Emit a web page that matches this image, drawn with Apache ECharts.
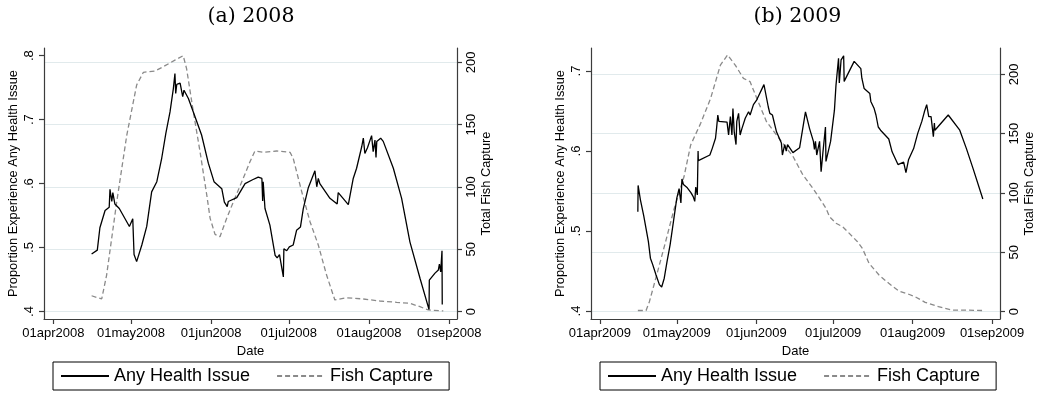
<!DOCTYPE html>
<html>
<head>
<meta charset="utf-8">
<script src="https://cdn.jsdelivr.net/npm/echarts@6/dist/echarts.min.js"></script>
<style>
html,body{margin:0;padding:0;background:#fff;}
#chart{width:1037px;height:394px;}
</style>
</head>
<body>
<div id="chart"></div>
<script>
// ---------- DATA (x = days since 01apr of the year) ----------
var panelTitles = ['(a) 2008', '(b) 2009'];
var seriesNames = ['Any Health Issue', 'Fish Capture'];
var xTickDays = [0, 30, 61, 91, 122, 153];
var xTickLabels08 = ['01apr2008', '01may2008', '01jun2008', '01jul2008', '01aug2008', '01sep2008'];
var xTickLabels09 = ['01apr2009', '01may2009', '01jun2009', '01jul2009', '01aug2009', '01sep2009'];
var leftTicks08 = [0.4, 0.5, 0.6, 0.7, 0.8];
var leftLabels08 = ['.4', '.5', '.6', '.7', '.8'];
var leftTicks09 = [0.4, 0.5, 0.6, 0.7];
var leftLabels09 = ['.4', '.5', '.6', '.7'];
var rightTicks = [0, 50, 100, 150, 200];
var rightLabels = ['0', '50', '100', '150', '200'];

var healthDays08 = [14.8,17.0,18.0,20.0,21.6,21.9,22.6,23.0,23.8,25.5,29.4,30.7,31.2,32.2,34.2,36.1,38.0,40.0,41.9,43.5,45.1,46.4,47.0,47.3,47.7,49.0,50.0,50.5,52.2,54.1,57.3,59.9,62.1,65.1,66.1,67.2,67.6,70.9,74.1,77.0,79.2,80.6,80.9,81.1,81.8,83.7,85.7,86.5,87.4,88.9,89.1,90.2,91.2,92.7,94.0,95.5,96.6,98.5,101.1,101.8,102.4,103.0,106.9,109.7,110.1,114.0,115.9,117.2,119.2,119.8,120.4,121.4,123.0,123.6,124.3,124.7,125.0,125.7,126.5,127.5,131.4,134.6,137.8,141.7,145.2,145.3,147.5,148.8,149.2,149.7,150.2,150.3];
var health08 = [.490,.496,.531,.558,.563,.591,.572,.586,.568,.561,.533,.545,.489,.478,.504,.533,.587,.603,.640,.679,.712,.749,.772,.741,.755,.757,.736,.746,.733,.712,.676,.632,.603,.592,.571,.564,.572,.578,.600,.606,.610,.608,.573,.603,.561,.535,.488,.484,.489,.454,.498,.495,.501,.504,.527,.532,.561,.593,.620,.595,.608,.600,.577,.568,.586,.567,.608,.624,.658,.671,.647,.656,.675,.650,.668,.641,.666,.666,.671,.666,.624,.577,.509,.452,.403,.449,.460,.465,.474,.462,.495,.411];

var fishDays08 = [14.8,18.7,20.6,24.5,28.4,32.2,34.8,39.3,42.5,47.0,50.2,51.5,54.1,56.7,59.3,60.6,62.5,64.4,67.0,69.6,73.4,76.0,77.9,81.1,86.3,91.5,92.7,96.0,99.2,102.4,105.6,108.8,113.4,119.8,126.2,132.7,137.8,141.7,144.9,150.7];
var fish08 = [12.8,10.2,29.4,88,141.7,181.8,192,193,196.5,201.8,205.3,195,160.4,128.3,93.6,74.9,62,60.1,74.9,88.2,107,120.3,128.9,127.8,128.9,127.8,123,96.2,72.2,53.5,29.4,9.4,11.2,10.2,8.6,7.5,6.7,4,1.4,0.6];

var healthDays09 = [14.8,14.9,15.8,17.1,18.0,18.9,19.7,20.6,21.9,23.2,24.1,25.1,26.2,27.4,28.7,30.0,30.9,31.6,32.0,32.6,34.1,35.5,36.4,37.0,37.4,38.0,38.3,38.4,42.9,43.8,45.1,45.5,46.0,46.4,49.6,50.2,50.9,51.5,51.9,52.4,53.1,53.4,54.1,54.7,55.4,56.7,58.0,58.6,59.9,60.5,61.2,64.0,65.7,66.3,67.3,68.9,70.8,71.2,72.1,72.7,73.2,75.3,77.9,80.2,81.8,83.3,83.7,84.1,84.6,85.7,86.3,87.0,88.0,88.2,90.0,91.5,92.1,93.1,93.4,94.1,95.1,95.3,99.2,101.8,102.2,103.1,105.3,105.7,107.0,107.7,108.6,109.5,112.7,114.0,116.3,118.5,119.4,120.4,121.0,122.4,124.0,125.6,126.6,127.5,128.1,128.3,129.2,130.1,130.5,130.7,135.9,140.4,143.0,145.6,149.4];
var health09 = [.524,.557,.539,.519,.503,.487,.466,.458,.445,.433,.430,.441,.462,.483,.512,.541,.553,.535,.565,.558,.554,.548,.543,.537,.555,.545,.600,.588,.595,.603,.616,.628,.645,.637,.636,.620,.643,.620,.653,.624,.608,.637,.647,.620,.628,.641,.649,.645,.658,.656,.664,.683,.655,.647,.645,.624,.610,.595,.608,.600,.608,.598,.604,.649,.628,.612,.602,.612,.595,.612,.574,.598,.630,.587,.612,.651,.682,.716,.685,.714,.719,.687,.712,.703,.691,.678,.672,.662,.653,.645,.630,.626,.615,.599,.583,.586,.573,.589,.587,.603,.622,.637,.649,.658,.658,.643,.643,.618,.635,.626,.645,.626,.603,.578,.540];

var fishDays09 = [14.8,18.0,19.3,22.5,25.8,29.0,32.8,35.4,39.3,43.2,47.0,49.8,52.8,56.0,58.6,61.2,65.0,68.9,72.8,75.3,79.2,83.1,85.7,88.2,89.6,92.1,94.7,97.3,100.5,102.4,105.0,108.9,112.7,116.6,120.5,123.0,126.9,132.1,137.2,142.3,149.4];
var fish09 = [1,1,8.4,33.7,60.4,87.1,113.7,140.4,158.7,179.8,207.8,216.3,207.8,196.6,193.8,179.8,160.1,148.9,137.7,131,115.2,104,95.5,87.1,80,74.5,71.6,66,59,53.4,40.8,30.9,23.9,17.4,14.7,12.6,7.9,4.2,1.4,1.4,1];

// ---------- helpers ----------
function zip(xs, ys) { var out = []; for (var i = 0; i < xs.length; i++) out.push([xs[i], ys[i]]); return out; }
function labeler(vals, labs) {
  return function (v) {
    for (var i = 0; i < vals.length; i++) if (Math.abs(v - vals[i]) < 1e-6) return labs[i];
    return '';
  };
}
var SANS = 'Liberation Sans, Arial, sans-serif';
var AXIS_COLOR = '#3c3c3c';
var GRID_COLOR = '#e1eaec';

function xAxisFor(gridIndex, labels, min, max) {
  return {
    type: 'value', gridIndex: gridIndex, min: min, max: max,
    name: 'Date', nameLocation: 'middle', nameGap: 22,
    nameTextStyle: { fontFamily: SANS, fontSize: 13, color: '#000' },
    axisLine: { show: true, onZero: false, lineStyle: { color: AXIS_COLOR, width: 1.2 } },
    axisTick: { show: true, customValues: xTickDays, length: 5, lineStyle: { color: AXIS_COLOR, width: 1.2 } },
    axisLabel: { customValues: xTickDays, formatter: labeler(xTickDays, labels), margin: 8,
                 fontFamily: SANS, fontSize: 13, color: '#000' },
    splitLine: { show: false }
  };
}
function yLeft(gridIndex, ticks, labels, min, max) {
  return {
    type: 'value', gridIndex: gridIndex, position: 'left', min: min, max: max,
    name: 'Proportion Experience Any Health Issue', nameLocation: 'middle', nameGap: 24,
    nameTextStyle: { fontFamily: SANS, fontSize: 12.8, color: '#000' },
    axisLine: { show: true, onZero: false, lineStyle: { color: AXIS_COLOR, width: 1.2 } },
    axisTick: { show: true, customValues: ticks, length: 5, lineStyle: { color: AXIS_COLOR, width: 1.2 } },
    axisLabel: { customValues: ticks, formatter: labeler(ticks, labels), rotate: 90, margin: 8,
                 fontFamily: SANS, fontSize: 13, color: '#000' },
    splitLine: { show: false }
  };
}
function yRight(gridIndex, min, max) {
  return {
    type: 'value', gridIndex: gridIndex, position: 'right', min: min, max: max,
    name: 'Total Fish Capture', nameLocation: 'middle', nameGap: 23,
    nameTextStyle: { fontFamily: SANS, fontSize: 12.8, color: '#000' },
    axisLine: { show: true, onZero: false, lineStyle: { color: AXIS_COLOR, width: 1.2 } },
    axisTick: { show: true, customValues: rightTicks, length: 5, lineStyle: { color: AXIS_COLOR, width: 1.2 } },
    axisLabel: { customValues: rightTicks, formatter: labeler(rightTicks, rightLabels), rotate: 90, margin: 8,
                 fontFamily: SANS, fontSize: 13, color: '#000' },
    splitLine: { show: true, lineStyle: { color: GRID_COLOR, width: 1 } }
  };
}
function legendFor(left) {
  return {
    data: seriesNames, left: left, top: 362, orient: 'horizontal',
    itemWidth: 48, itemHeight: 14, itemGap: 26,
    padding: [5, 16, 5, 7],
    borderColor: '#000', borderWidth: 1,
    itemStyle: { opacity: 0 },
    textStyle: { fontFamily: SANS, fontSize: 18, color: '#000' },
    selectedMode: false
  };
}
function healthSeries(xi, yi, xs, ys) {
  return { name: seriesNames[0], type: 'line', xAxisIndex: xi, yAxisIndex: yi, data: zip(xs, ys),
           symbol: 'none', z: 3, itemStyle: { color: '#000' },
           lineStyle: { color: '#000', width: 1.3 } };
}
function fishSeries(xi, yi, xs, ys) {
  return { name: seriesNames[1], type: 'line', xAxisIndex: xi, yAxisIndex: yi, data: zip(xs, ys),
           symbol: 'none', z: 2, itemStyle: { color: '#8a8a8a' },
           lineStyle: { color: '#8a8a8a', width: 1.3, type: [5, 3] } };
}

var chart = echarts.init(document.getElementById('chart'), null, { renderer: 'canvas' });
chart.setOption({
  backgroundColor: '#fff',
  animation: false,
  title: [
    { text: panelTitles[0], left: 251, top: 6, textAlign: 'center', padding: 0,
      textStyle: { fontFamily: 'DejaVu Serif', fontSize: 20.5, fontWeight: 'normal', color: '#000' } },
    { text: panelTitles[1], left: 797.5, top: 6, textAlign: 'center', padding: 0,
      textStyle: { fontFamily: 'DejaVu Serif', fontSize: 20.5, fontWeight: 'normal', color: '#000' } }
  ],
  legend: [legendFor(53), legendFor(600)],
  grid: [
    { left: 44, right: 580, top: 48, bottom: 75, containLabel: false },
    { left: 591, right: 33, top: 48, bottom: 75, containLabel: false }
  ],
  xAxis: [
    xAxisFor(0, xTickLabels08, -3.6, 156.0),
    xAxisFor(1, xTickLabels09, -3.48, 156.1)
  ],
  yAxis: [
    yLeft(0, leftTicks08, leftLabels08, 0.3883, 0.812),
    yRight(0, -5.85, 211.5),
    yLeft(1, leftTicks09, leftLabels09, 0.39, 0.72875),
    yRight(1, -6.15, 222.2)
  ],
  series: [
    fishSeries(0, 1, fishDays08, fish08),
    healthSeries(0, 0, healthDays08, health08),
    fishSeries(1, 3, fishDays09, fish09),
    healthSeries(1, 2, healthDays09, health09)
  ]
});
</script>
</body>
</html>
